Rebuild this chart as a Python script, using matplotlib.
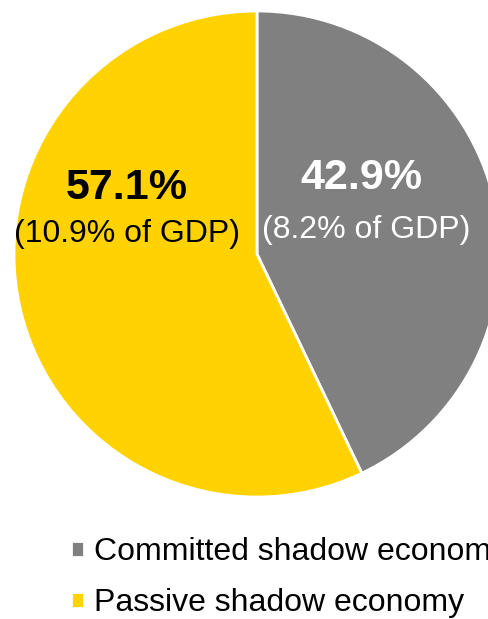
import matplotlib.pyplot as plt

plt.rcParams['font.family'] = ['Liberation Sans', 'DejaVu Sans']

labels = ['Committed shadow economy', 'Passive shadow economy']
shares = [42.9, 57.1]
gdp_shares = [8.2, 10.9]
colors = ['#808080', '#FFD200']
text_colors = ['white', 'black']

fig = plt.figure(figsize=(4.88, 6.19), dpi=100)
ax = fig.add_axes([0, 0, 1, 1])

# pie drawn in pixel-like data units so the layout is easy to place
cx, cy, r = 257, 619 - 254, 243
wedges, _ = ax.pie(shares, colors=colors, startangle=90, counterclock=False,
                   center=(cx, cy), radius=r,
                   wedgeprops=dict(edgecolor='white', linewidth=2))
ax.set_xlim(0, 488)
ax.set_ylim(0, 619)
ax.set_aspect('equal')
ax.axis('off')

# label offsets from the pie centre
label_pos = [(104, 76), (-130, 66)]
sub_pos = [(109, 24), (-130, 20)]
for i in range(len(shares)):
    dx, dy = label_pos[i]
    ax.text(cx + dx, cy + dy, f'{shares[i]}%', ha='center', va='center',
            fontsize=31, fontweight='bold', color=text_colors[i])
    dx, dy = sub_pos[i]
    ax.text(cx + dx, cy + dy, f'({gdp_shares[i]}% of GDP)', ha='center', va='center',
            fontsize=23, color=text_colors[i])

fig.legend(wedges, labels, loc='upper left', bbox_to_anchor=(0.146, 0.132),
           frameon=False, fontsize=23, handlelength=0.4, handleheight=0.4,
           handletextpad=0.3, labelspacing=0.66, borderpad=0, borderaxespad=0)

fig.savefig('out.png', dpi=100)
